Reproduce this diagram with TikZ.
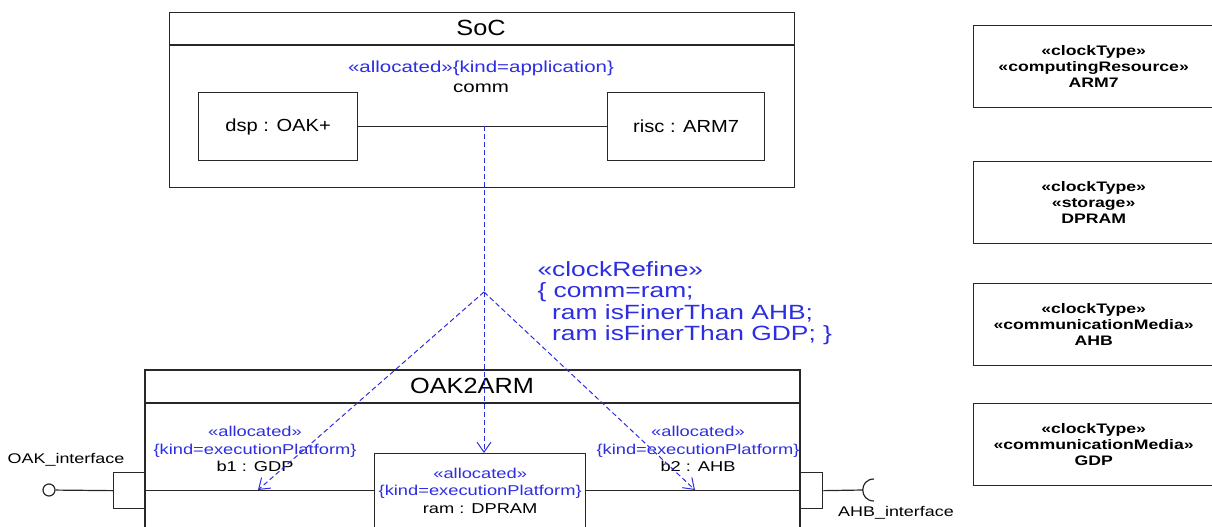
\documentclass[tikz,border=0pt]{standalone}
\usepackage{fontspec}
\setmainfont{Liberation Sans}
\newfontfamily\wfont[FakeStretch=1.28]{Liberation Sans}
\newfontfamily\tfont[FakeStretch=1.15]{Liberation Sans}
\usetikzlibrary{arrows.meta}
\definecolor{ublue}{RGB}{45,45,225}
\definecolor{uline}{RGB}{40,40,40}
\begin{document}
\begin{tikzpicture}[x=1pt,y=-1pt,
  box/.style={draw=uline, line width=1.3pt, inner sep=0pt, anchor=north west, align=center},
  lbl/.style={font=\wfont\fontsize{16}{19}\selectfont},
  part/.style={font=\tfont\fontsize{17.5}{20}\selectfont},
  small/.style={font=\wfont\fontsize{14.3}{17.5}\selectfont, align=center},
  title/.style={font=\tfont\fontsize{22}{24}\selectfont},
  blu/.style={text=ublue},
  dep/.style={draw=ublue, line width=1pt, dash pattern=on 5pt off 3pt, -{Straight Barb[length=10pt,width=14pt]}},
  depline/.style={draw=ublue, line width=1pt, dash pattern=on 5pt off 3pt},
  ctype/.style={box, minimum width=240pt, minimum height=82pt, font=\wfont\bfseries\fontsize{13.8}{16}\selectfont},
  conn/.style={draw=uline, line width=1.2pt}
]
\useasboundingbox (0,0) rectangle (1212,527);

% SoC
\node[box, minimum width=625pt, minimum height=175pt] (soc) at (169,12) {};
\draw[conn] (169,45) -- (794,45);
\node[title] (soct) at (481,28) {SoC};
\node[lbl, blu] (socalloc) at (481,68) {«allocated»\{kind=application\}};
\node[lbl] (comm) at (481,88) {comm};
\node[box, part, minimum width=159pt, minimum height=68pt] (dsp) at (198,92) {dsp : OAK+};
\node[box, part, minimum width=157pt, minimum height=68pt] (risc) at (607,92) {risc : ARM7};
\draw[conn] (dsp) -- (risc);

% clockRefine
\coordinate (c) at (484,126);
\coordinate (j) at (484,292);
\node[blu, anchor=north west, align=left, font=\wfont\fontsize{20.6}{21.5}\selectfont] (refine) at (534,258)
  {«clockRefine»\\\{ comm=ram;\\\ \ ram isFinerThan AHB;\\\ \ ram isFinerThan GDP; \}};

% OAK2ARM
\draw[conn, line width=1.3pt] (145,527) -- (145,370) -- (800,370) -- (800,527);
\draw[conn] (145,403) -- (800,403);
\node[title] (oakt) at (472,386) {OAK2ARM};

\node[box, small, minimum width=211pt, minimum height=74pt] (ram) at (374,453)
  {\textcolor{ublue}{«allocated»}\\\textcolor{ublue}{\{kind=executionPlatform\}}\\ram : DPRAM};
\node[small] (b1) at (255,449)
  {\textcolor{ublue}{«allocated»}\\\textcolor{ublue}{\{kind=executionPlatform\}}\\b1 : GDP};
\node[small] (b2) at (698,449)
  {\textcolor{ublue}{«allocated»}\\\textcolor{ublue}{\{kind=executionPlatform\}}\\b2 : AHB};

% ports
\node[box, minimum width=32pt, minimum height=36pt] (pl) at (113,472) {};
\node[box, minimum width=22pt, minimum height=36pt] (pr) at (800,472) {};
\node[draw=uline, line width=1.2pt, circle, minimum size=12pt, inner sep=0pt] (oak) at (49,490) {};
\draw[conn] (oak) -- (pl.west);
\draw[conn] (pl.east) -- (ram.west);
\draw[conn] (ram.east) -- (pr.west);
\coordinate (s) at (863,490);
\draw[conn] (pr.east) -- (s);
\draw[conn] (874,479) .. controls (859,479) and (859,501) .. (874,501);
\node[font=\wfont\fontsize{14}{16}\selectfont] (oaklbl) at (66,460) {OAK\_interface};
\node[font=\wfont\fontsize{14}{16}\selectfont] (ahblbl) at (896,513) {AHB\_interface};

% dependencies
\coordinate (e1) at (258,490);
\coordinate (e2) at (695,490);
\draw[depline] (c) -- (j);
\draw[dep] (j) -- (e1);
\draw[dep] (j) -- (j |- ram.north);
\draw[dep] (j) -- (e2);

% clock types
\node[ctype] (arm7) at (973,25) {«clockType»\\«computingResource»\\ARM7};
\node[ctype] (dpram) at (973,161) {«clockType»\\«storage»\\DPRAM};
\node[ctype] (ahb) at (973,283) {«clockType»\\«communicationMedia»\\AHB};
\node[ctype] (gdp) at (973,403) {«clockType»\\«communicationMedia»\\GDP};
\end{tikzpicture}
\end{document}
